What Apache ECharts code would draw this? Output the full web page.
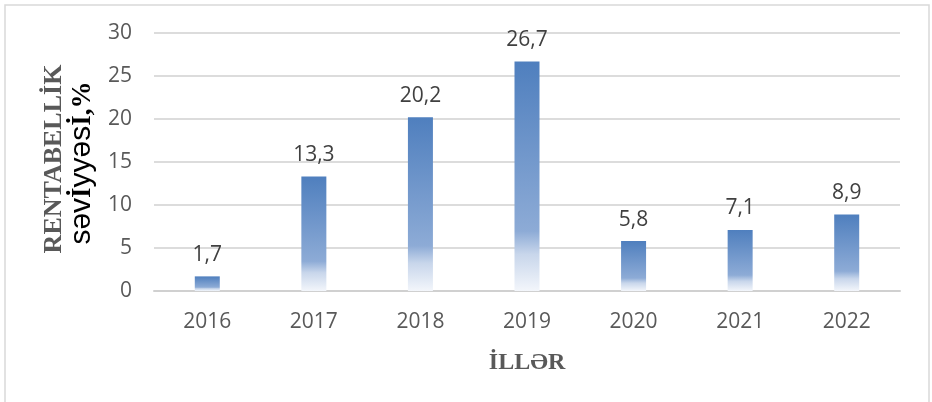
<!DOCTYPE html>
<html>
<head>
<meta charset="utf-8">
<title>Rentabellik səviyyəsi</title>
<script src="https://cdn.jsdelivr.net/npm/echarts@6/dist/echarts.min.js"></script>
<style>
  html, body { margin: 0; padding: 0; background: #fff; }
  #chart { width: 932px; height: 402px; }
</style>
</head>
<body>
<div id="chart"></div>
<script>
// illər və rentabellik (%)
var years = ['2016', '2017', '2018', '2019', '2020', '2021', '2022'];
var rentabellik = [1.7, 13.3, 20.2, 26.7, 5.8, 7.1, 8.9];
var yTicks = [0, 5, 10, 15, 20, 25, 30];

var chart = echarts.init(document.getElementById('chart'));

// bar rəngi - yuxarıdan aşağı ağa doğru
var barColor = new echarts.graphic.LinearGradient(0, 0, 0, 1, [
  { offset: 0, color: '#4f7fbe' },
  { offset: 0.74, color: '#8dabd6' },
  { offset: 0.84, color: '#c8d6eb' },
  { offset: 1, color: '#f3f6fb' }
]);

var option = {
  animation: false,
  backgroundColor: '#fff',
  textStyle: { fontFamily: 'Open Sans' },
  graphic: [
    {
      type: 'rect',
      shape: { x: 5, y: 5, width: 924, height: 420 },
      style: { fill: 'none', stroke: '#d9d9d9', lineWidth: 1.5 },
      silent: true
    },
    // y oxu başlığı, 1-ci sətir
    {
      type: 'text',
      rotation: Math.PI / 2,
      x: 54, y: 159,
      style: {
        text: 'RENTABELLİK',
        font: 'bold 26px "Liberation Serif"',
        fill: '#595959',
        align: 'center',
        verticalAlign: 'middle'
      }
    },
    // 2-ci sətir
    {
      type: 'text',
      rotation: Math.PI / 2,
      x: 82, y: 163,
      style: {
        text: '{a|səv}{b|İ}{a|yyəs}{b|İ,%}',
        align: 'center',
        verticalAlign: 'middle',
        rich: {
          a: { fontFamily: 'Liberation Sans', fontSize: 30, color: '#6b6b6b', lineHeight: 30, verticalAlign: 'bottom' },
          b: { fontFamily: 'Liberation Serif', fontWeight: 'bold', fontSize: 27, color: '#595959', lineHeight: 30, verticalAlign: 'bottom' }
        }
      }
    }
  ],
  grid: {
    left: 154,
    right: 32,
    top: 33,
    bottom: 111,
    containLabel: false
  },
  xAxis: {
    type: 'category',
    data: years,
    name: 'İLLƏR',
    nameLocation: 'middle',
    nameGap: 60,
    nameTextStyle: {
      fontFamily: 'Liberation Serif',
      fontWeight: 'bold',
      fontSize: 24,
      color: '#595959'
    },
    axisLine: { lineStyle: { color: '#d0d0d0', width: 2 } },
    axisTick: { show: false },
    axisLabel: { fontSize: 21, color: '#595959', margin: 21 }
  },
  yAxis: {
    type: 'value',
    min: yTicks[0],
    max: yTicks[yTicks.length - 1],
    interval: 5,
    axisLine: { show: false },
    axisTick: { show: false },
    axisLabel: { fontSize: 21, color: '#595959', margin: 22 },
    splitLine: { lineStyle: { color: '#dcdcdc', width: 2 } }
  },
  series: [
    {
      type: 'bar',
      data: rentabellik,
      barWidth: 25,
      itemStyle: { color: barColor },
      label: {
        show: true,
        position: 'top',
        distance: 11,
        fontSize: 21,
        color: '#404040',
        formatter: function (p) {
          return String(p.value).replace('.', ',');
        }
      }
    }
  ]
};

chart.setOption(option);
</script>
</body>
</html>
